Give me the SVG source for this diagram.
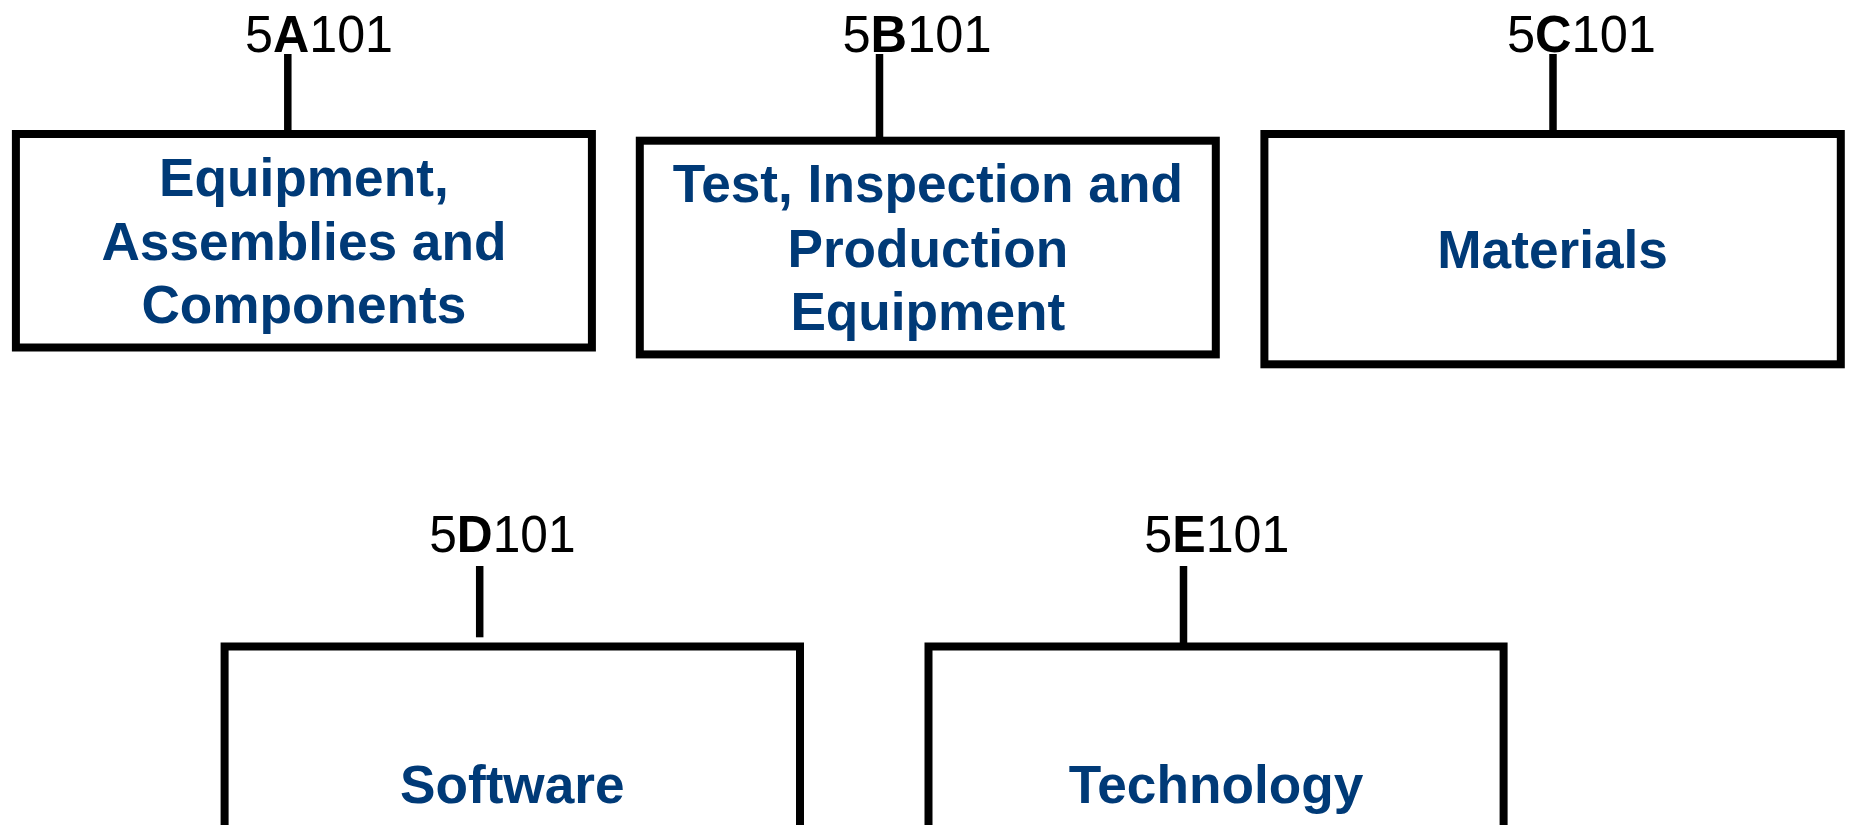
<svg xmlns="http://www.w3.org/2000/svg" width="1849" height="825" viewBox="0 0 1849 825">
<style>
.box{fill:#fff;stroke:#000;stroke-width:8}
.conn{stroke:#000;stroke-width:7.5;fill:none}
.lbl{font-family:"Liberation Sans",Arial,sans-serif;font-size:52px;fill:#000;text-anchor:middle}
.lbl tspan.b{font-weight:bold}
.t{font-family:"Liberation Sans",Arial,sans-serif;font-size:53.2px;font-weight:bold;fill:#003a77;text-anchor:middle}
</style>
<rect width="1849" height="825" fill="#fff"/>
<g id="connectors">
<line class="conn" x1="287.8" y1="54" x2="287.8" y2="131"/>
<line class="conn" x1="879.5" y1="54" x2="879.5" y2="137"/>
<line class="conn" x1="1553" y1="54" x2="1553" y2="131"/>
<line class="conn" x1="479.7" y1="566" x2="479.7" y2="637.3"/>
<line class="conn" x1="1183.5" y1="566" x2="1183.5" y2="643"/>
</g>
<g id="node-5A">
<rect class="box" x="15.9" y="134" width="576" height="213.5"/>
<text class="lbl" x="319" y="52" textLength="148" lengthAdjust="spacingAndGlyphs">5<tspan class="b">A</tspan>101</text>
<text class="t" x="303.9" y="196">Equipment,</text>
<text class="t" x="303.9" y="259.5">Assemblies and</text>
<text class="t" x="303.9" y="323">Components</text>
</g>
<g id="node-5B">
<rect class="box" x="639.8" y="140.7" width="576" height="213.7"/>
<text class="lbl" x="917" y="52" textLength="149" lengthAdjust="spacingAndGlyphs">5<tspan class="b">B</tspan>101</text>
<text class="t" x="927.8" y="202.3">Test, Inspection and</text>
<text class="t" x="927.8" y="266.7">Production</text>
<text class="t" x="927.8" y="330">Equipment</text>
</g>
<g id="node-5C">
<rect class="box" x="1264.4" y="134" width="576.4" height="230.3"/>
<text class="lbl" x="1581.4" y="52" textLength="149" lengthAdjust="spacingAndGlyphs">5<tspan class="b">C</tspan>101</text>
<text class="t" x="1552.6" y="268.3">Materials</text>
</g>
<g id="node-5D">
<rect class="box" x="224.6" y="646.5" width="575.4" height="200"/>
<text class="lbl" x="502.4" y="552.3" textLength="146.3" lengthAdjust="spacingAndGlyphs">5<tspan class="b">D</tspan>101</text>
<text class="t" x="512.3" y="803.3">Software</text>
</g>
<g id="node-5E">
<rect class="box" x="928.5" y="646.5" width="575.1" height="200"/>
<text class="lbl" x="1216.9" y="552.3" textLength="145.1" lengthAdjust="spacingAndGlyphs">5<tspan class="b">E</tspan>101</text>
<text class="t" x="1216" y="803.3">Technology</text>
</g>
</svg>
